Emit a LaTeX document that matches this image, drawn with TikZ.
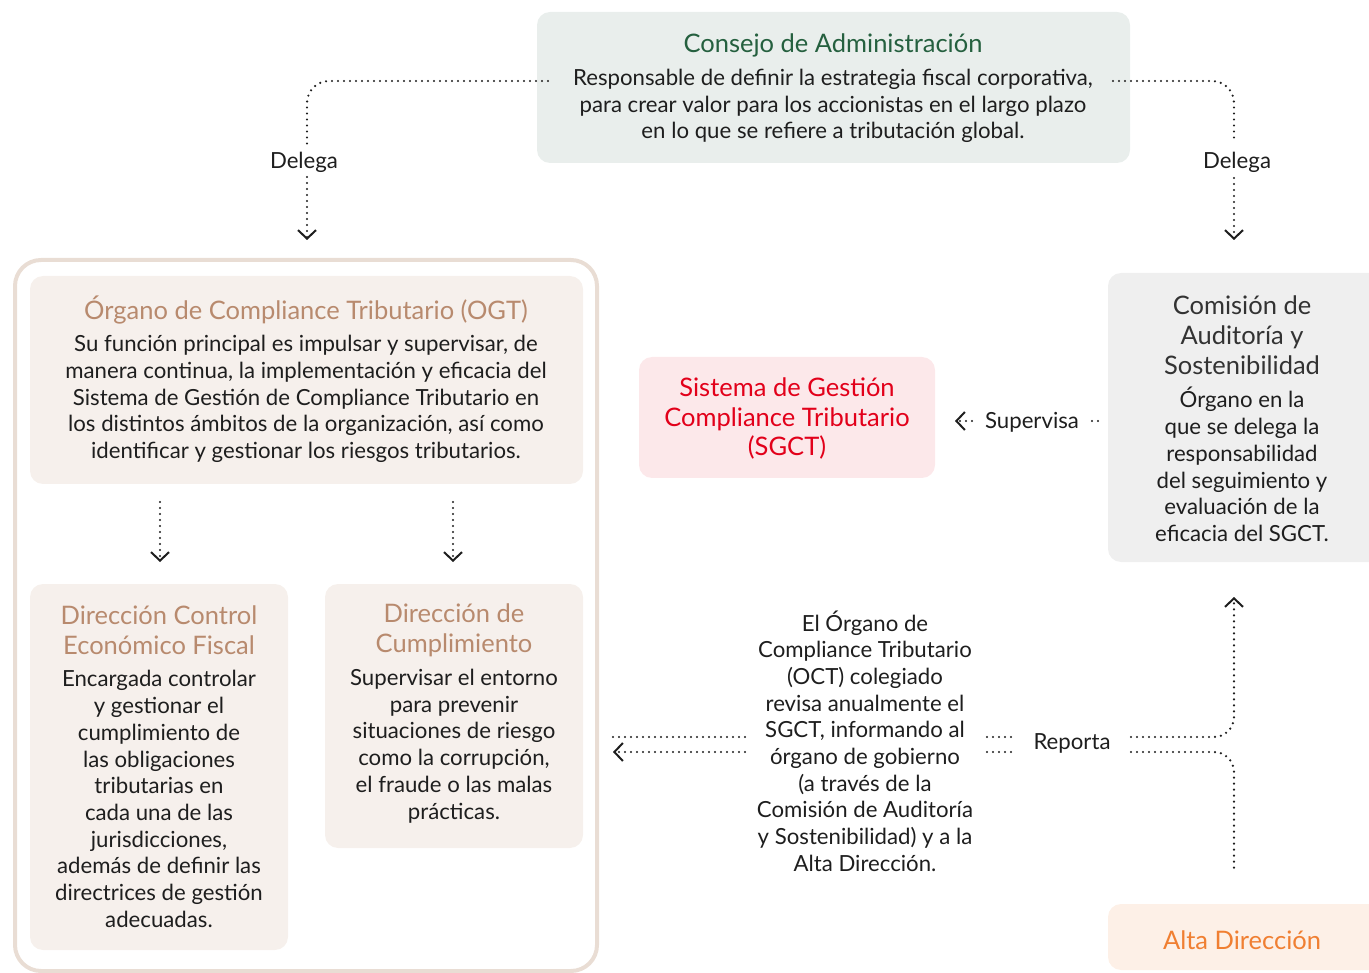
\documentclass[tikz,border=0pt]{standalone}
\usepackage{fontspec}
\setmainfont{Lato}
\usetikzlibrary{arrows.meta}
\definecolor{txt}{HTML}{1E1E1E}
\definecolor{cfill}{HTML}{E9EEEC}
\definecolor{cgreen}{HTML}{25603F}
\definecolor{bfill}{HTML}{F6F0EC}
\definecolor{btitle}{HTML}{B88A6E}
\definecolor{bstroke}{HTML}{E9DDD4}
\definecolor{sfill}{HTML}{FCE8EA}
\definecolor{sred}{HTML}{E2001A}
\definecolor{gfill}{HTML}{EFEFEF}
\definecolor{gtitle}{HTML}{333333}
\definecolor{afill}{HTML}{FDF0E7}
\definecolor{aorange}{HTML}{F07F32}
\tikzset{
  box/.style={draw=none, rounded corners=13pt, inner sep=0pt},
  body/.style={align=center, inner sep=0pt, text=txt, font=\fontsize{22.2}{26.7}\selectfont},
  ttl/.style={align=center, inner sep=0pt, font=\fontsize{25.5}{30}\selectfont},
  dotline/.style={line width=2.4pt, line cap=round, dash pattern=on 0pt off 6pt, draw=txt},
  tip/.style={-{Straight Barb[length=8.5pt,width=18pt,line width=2pt]}},
}
\begin{document}
\begin{tikzpicture}[x=1pt,y=-1pt]
\useasboundingbox (0,0) rectangle (1369,973);
% boxes
\node[box, fill=cfill, minimum width=593pt, minimum height=151pt] (consejo) at (833.5,87.5) {};
\draw[bstroke, line width=4pt, rounded corners=26pt] (15,260) rectangle (597,971);
\node[box, fill=bfill, minimum width=553pt, minimum height=208pt] (ogt) at (306.5,380) {};
\node[box, fill=bfill, minimum width=258pt, minimum height=366pt] (dcef) at (159,767) {};
\node[box, fill=bfill, minimum width=258pt, minimum height=264pt] (dcum) at (454,716) {};
\node[box, fill=sfill, minimum width=296pt, minimum height=121pt] (sgct) at (787,417.5) {};
\node[box, fill=gfill, minimum width=280pt, minimum height=289pt] (comision) at (1248,417.5) {};
\node[box, fill=afill, minimum width=280pt, minimum height=66pt] (alta) at (1248,937) {};
% texts
\node[ttl, text=cgreen] (consejoT) at (833,45) {Consejo de Administración};
\node[body] (consejoB) at (833,106) {Responsable de definir la estrategia fiscal corporativa,\\para crear valor para los accionistas en el largo plazo\\en lo que se refiere a tributación global.};
\node[ttl, text=btitle] (ogtT) at (306,310) {Órgano de Compliance Tributario (OGT)};
\node[body] (ogtB) at (306,399) {Su función principal es impulsar y supervisar, de\\manera continua, la implementación y eficacia del\\Sistema de Gestión de Compliance Tributario en\\los distintos ámbitos de la organización, así como\\identificar y gestionar los riesgos tributarios.};
\node[ttl, text=btitle] (dcefT) at (159,630) {Dirección Control\\Económico Fiscal};
\node[body] (dcefB) at (159,799) {Encargada controlar\\y gestionar el\\cumplimiento de\\las obligaciones\\tributarias en\\cada una de las\\jurisdicciones,\\además de definir las\\directrices de gestión\\adecuadas.};
\node[ttl, text=btitle] (dcumT) at (454,630) {Dirección de\\Cumplimiento};
\node[body] (dcumB) at (454,746) {Supervisar el entorno\\para prevenir\\situaciones de riesgo\\como la corrupción,\\el fraude o las malas\\prácticas.};
\node[ttl, text=sred, font=\fontsize{25.5}{29.5}\selectfont] (sgctT) at (787,418.5) {Sistema de Gestión\\Compliance Tributario\\(SGCT)};
\node[ttl, text=gtitle] (comT) at (1242,335) {Comisión de\\Auditoría y\\Sostenibilidad};
\node[body] (comB) at (1242,464.5) {Órgano en la\\que se delega la\\responsabilidad\\del seguimiento y\\evaluación de la\\eficacia del SGCT.};
\node[body] (midB) at (865,741) {El Órgano de\\Compliance Tributario\\(OCT) colegiado\\revisa anualmente el\\SGCT, informando al\\órgano de gobierno\\(a través de la\\Comisión de Auditoría\\y Sostenibilidad) y a la\\Alta Dirección.};
\node[ttl, text=aorange] (altaT) at (1242,940) {Alta Dirección};
% labels
\node[body] (delegaL) at (304,162) {Delega};
\node[body] (delegaR) at (1237,162) {Delega};
\node[body] (supervisa) at (1032,422) {Supervisa};
\node[body] (reporta) at (1072,743) {Reporta};
% coordinates
\coordinate (cL) at (548,81);
\coordinate (cR) at (1113,81);
\coordinate (dLtop) at (307,145);
\coordinate (dLbot) at (307,177);
\coordinate (dLtip) at (307,240);
\coordinate (dRtop) at (1234,142);
\coordinate (dRbot) at (1234,178);
\coordinate (dRtip) at (1234,240);
\coordinate (o1s) at (160,502);
\coordinate (o1e) at (160,562);
\coordinate (o2s) at (453,502);
\coordinate (o2e) at (453,562);
\coordinate (sv1) at (972,421);
\coordinate (sv2) at (955,421);
\coordinate (sv3) at (1092,421);
\coordinate (sv4) at (1100,421);
\coordinate (la1) at (745,737);
\coordinate (la2) at (611,737);
\coordinate (lb1) at (745,752);
\coordinate (lb2) at (613,752);
\coordinate (ra1) at (987,737);
\coordinate (ra2) at (1013,737);
\coordinate (rb1) at (987,752);
\coordinate (rb2) at (1013,752);
\coordinate (pa) at (1131,737);
\coordinate (pb) at (1131,752);
\coordinate (upTip) at (1234,597);
\coordinate (downEnd) at (1234,873);
% connectors
\draw[dotline, rounded corners=22pt] (cL) -- (307,81) -- (dLtop);
\draw[dotline, tip] (dLbot) -- (dLtip);
\draw[dotline, rounded corners=22pt] (cR) -- (1234,81) -- (dRtop);
\draw[dotline, tip] (dRbot) -- (dRtip);
\draw[dotline, tip] (o1s) -- (o1e);
\draw[dotline, tip] (o2s) -- (o2e);
\draw[dotline, tip] (sv1) -- (sv2);
\draw[dotline] (sv3) -- (sv4);
\draw[dotline] (la1) -- (la2);
\draw[dotline, tip] (lb1) -- (lb2);
\draw[dotline] (ra1) -- (ra2);
\draw[dotline] (rb1) -- (rb2);
\draw[dotline, tip, rounded corners=20pt] (pa) -- (1234,737) -- (upTip);
\draw[dotline, rounded corners=20pt] (pb) -- (1234,752) -- (downEnd);
\end{tikzpicture}
\end{document}
